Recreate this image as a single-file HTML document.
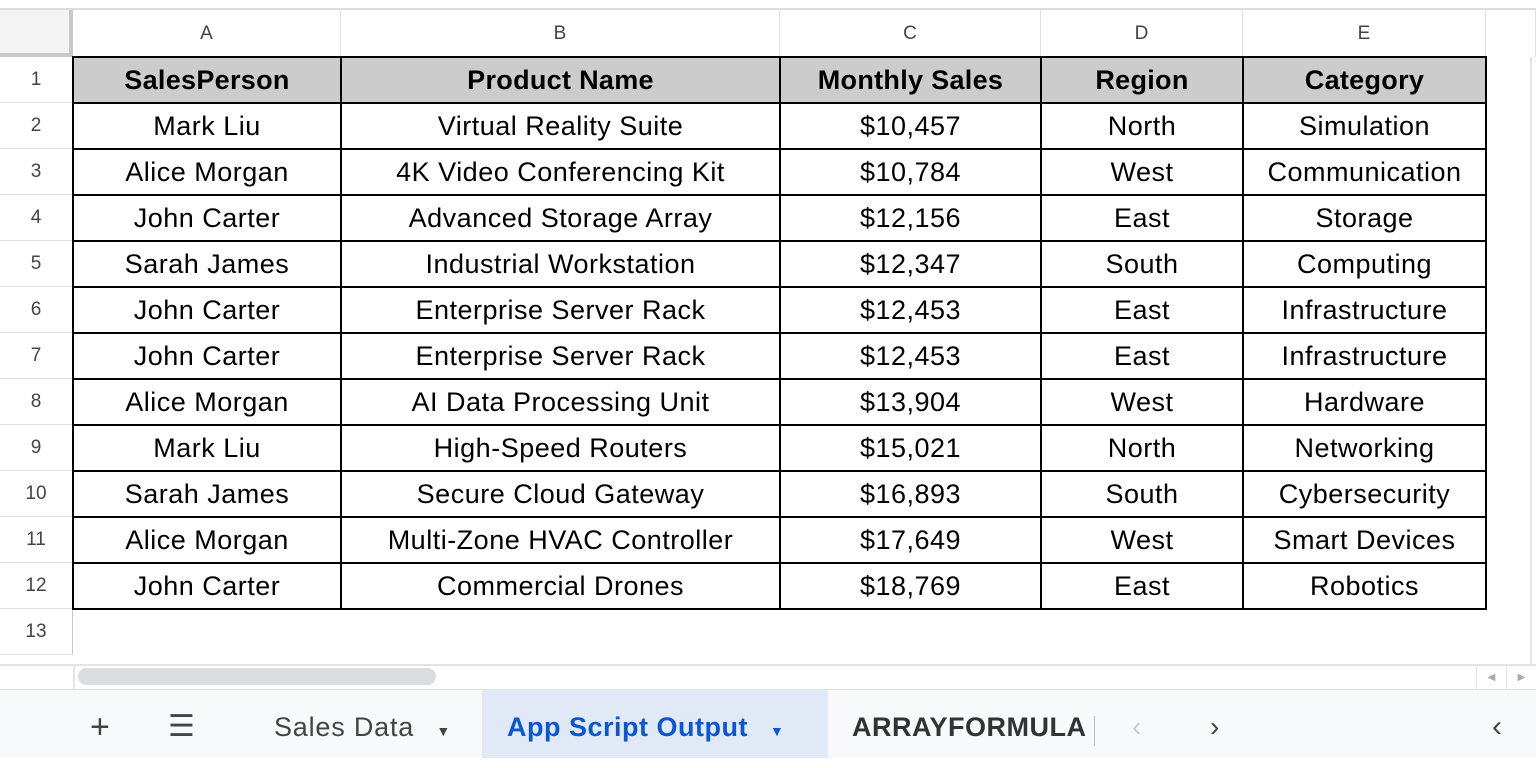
<!DOCTYPE html>
<html><head><meta charset="utf-8"><style>
*{margin:0;padding:0;box-sizing:border-box}
body{width:1536px;height:758px;background:#fff;position:relative;overflow:hidden;font-family:"Liberation Sans",Arial,sans-serif}
.a{position:absolute}
.ch{position:absolute;top:10px;height:47px;border-right:1px solid #e0e0e0;text-align:center;line-height:47px;font-size:19px;color:#444;background:#fff}
.rh{position:absolute;left:0;width:73px;height:46px;border-bottom:1px solid #e0e0e0;text-align:center;line-height:46px;font-size:19px;color:#444;background:#fff;border-right:1px solid #c8c8c8}
.c{position:absolute;height:47px;border:2px solid #000;margin-left:-1px;margin-top:-1px;text-align:center;line-height:45px;font-size:27px;letter-spacing:0.5px;color:#000;white-space:nowrap;overflow:hidden}
.h{background:#ccc;font-weight:bold;letter-spacing:0.3px}
.tab{position:absolute;top:690px;height:68px;line-height:74px;font-size:27px;color:#444;letter-spacing:0.8px}
</style></head><body>
<div class="a" style="left:0;top:8px;width:1536px;height:2px;background:#ddd"></div>
<div class="a" style="left:0;top:10px;width:73px;height:47px;background:#f3f3f3;border-right:4px solid #c8c8c8;border-bottom:4px solid #c8c8c8"></div>
<div id="cols"></div>
<div id="rows"></div>
<div id="cells"></div>
<div class="a" style="left:0;top:664px;width:1536px;height:2px;background:#e3e3e3"></div>
<div class="a" style="left:1530px;top:57px;width:2px;height:607px;background:#e3e3e3"></div>
<div class="a" style="left:73px;top:666px;width:1463px;height:23px;background:#fff;border-left:2px solid #e3e3e3"></div>
<div class="a" style="left:78px;top:668px;width:358px;height:17px;border-radius:9px;background:#dadce0"></div>
<div class="a" style="left:1476px;top:666px;width:30px;height:23px;border-left:1px solid #e3e3e3;color:#aaa;font-size:10px;text-align:center;line-height:23px">◀</div>
<div class="a" style="left:1506px;top:666px;width:30px;height:23px;border-left:1px solid #e3e3e3;color:#aaa;font-size:10px;text-align:center;line-height:23px">▶</div>
<div class="a" style="left:0;top:689px;width:1536px;height:69px;background:#f8f9fa;border-top:1px solid #e3e3e3"></div>
<div class="tab" style="left:90px;font-size:34px;color:#444">+</div>
<div class="tab" style="left:168px;font-size:30px;color:#444">☰</div>
<div class="tab" style="left:274px">Sales Data <span style="font-size:14px;margin-left:14px">▼</span></div>
<div class="tab" style="left:482px;width:346px;background:#e1e9f7;color:#0b57d0;font-weight:bold;padding-left:25px;letter-spacing:0.5px">App Script Output <span style="font-size:14px;margin-left:14px">▼</span></div>
<div class="tab" style="left:852px;width:243px;overflow:hidden;white-space:nowrap;font-weight:bold;color:#333;letter-spacing:0.5px">ARRAYFORMULA ▼</div>
<div class="a" style="left:1094px;top:716px;width:1px;height:30px;background:#bbb"></div>
<div class="tab" style="left:1132px;color:#ccc;font-size:28px">‹</div>
<div class="tab" style="left:1210px;color:#444;font-size:28px">›</div>
<div class="tab" style="left:1492px;color:#444;font-size:30px">‹</div>
<script>
const colLetters=["A","B","C","D","E"];
const colX=[73,341,780,1041,1243,1486];
const rowTop=57,rowH=46;
const headers=["SalesPerson","Product Name","Monthly Sales","Region","Category"];
const people=["Mark Liu","Alice Morgan","John Carter","Sarah James","John Carter","John Carter","Alice Morgan","Mark Liu","Sarah James","Alice Morgan","John Carter"];
const products=["Virtual Reality Suite","4K Video Conferencing Kit","Advanced Storage Array","Industrial Workstation","Enterprise Server Rack","Enterprise Server Rack","AI Data Processing Unit","High-Speed Routers","Secure Cloud Gateway","Multi-Zone HVAC Controller","Commercial Drones"];
const sales=["$10,457","$10,784","$12,156","$12,347","$12,453","$12,453","$13,904","$15,021","$16,893","$17,649","$18,769"];
const regions=["North","West","East","South","East","East","West","North","South","West","East"];
const cats=["Simulation","Communication","Storage","Computing","Infrastructure","Infrastructure","Hardware","Networking","Cybersecurity","Smart Devices","Robotics"];
const cols=document.getElementById('cols'),rows=document.getElementById('rows'),cells=document.getElementById('cells');
for(let i=0;i<colLetters.length;i++){const d=document.createElement('div');d.className='ch';d.style.left=colX[i]+'px';d.style.width=(colX[i+1]-colX[i])+'px';d.textContent=colLetters[i];


cols.appendChild(d);}
const fc=document.createElement('div');fc.className='ch';fc.style.left='1486px';fc.style.width='50px';


cols.appendChild(fc);
for(let r=0;r<13;r++){const d=document.createElement('div');d.className='rh';d.style.top=(rowTop+r*rowH)+'px';d.textContent=r+1;


rows.appendChild(d);}
const data=[headers];
for(let i=0;i<people.length;i++)data.push([people[i],products[i],sales[i],regions[i],cats[i]]);
const nm=["salesperson","product","sales","region","category"];
data.forEach((row,r)=>row.forEach((v,c)=>{const d=document.createElement('div');d.className='c'+(r==0?' h':'');
d.style.left=colX[c]+'px';d.style.top=(rowTop+r*rowH)+'px';d.style.width=(colX[c+1]-colX[c]+2)+'px';d.style.height=(rowH+2)+'px';d.textContent=v;


cells.appendChild(d);}));
</script>
</body></html>
